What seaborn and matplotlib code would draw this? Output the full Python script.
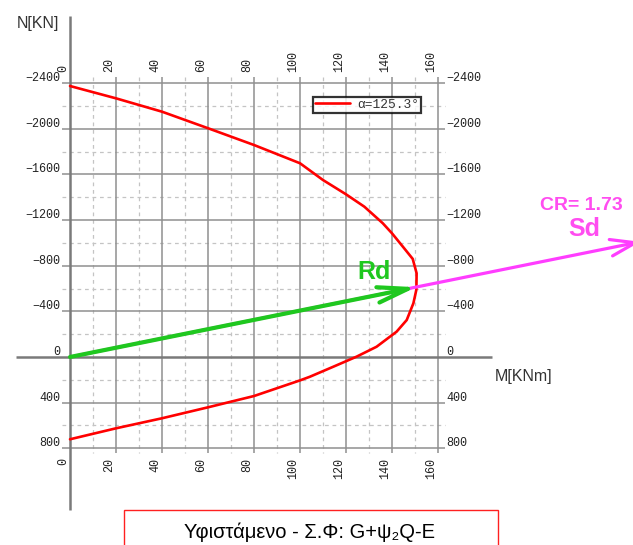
import matplotlib
matplotlib.use("Agg")
import matplotlib.pyplot as plt
from matplotlib.patches import Rectangle
import pandas as pd
import seaborn as sns

# Interaction diagram M-N (M in kNm, N in kN, compression negative)
moment = [0, 20, 40, 60, 80, 100, 110, 120, 128, 136, 140, 145, 149, 150.7,
          150.6, 149.3, 146.4, 142, 133.3, 124.6, 114.5, 104.3, 100, 80, 60,
          40, 20, 0]
axial = [-2375, -2267, -2150, -2005, -1858, -1698, -1551, -1426, -1317, -1172,
         -1084, -960, -860, -734, -590, -471, -324, -222, -90, -3, 85, 173,
         205, 342, 441, 537, 625, 721]
curve_label = "α=125.3°"

# Resistance and action vectors
rd_point = (150.5, -612)
sd_point = (248.0, -1010)
cr_text = "CR= 1.73"

m_ticks = list(range(0, 161, 20))
n_ticks = list(range(-2400, 801, 400))
m_minor = list(range(10, 151, 20))
n_minor = list(range(-2200, 601, 400))

title = "Υφιστάμενο - Σ.Φ: G+ψ₂Q-E"

sns.set_style("white")
plt.rcParams["font.family"] = ["Liberation Sans", "DejaVu Sans"]

W, H = 633, 545
fig = plt.figure(figsize=(W / 100, H / 100), dpi=100)
fig.patch.set_facecolor("white")
ax = fig.add_axes([0, 0, 1, 1])

# pixel scale: 2.3 px per kNm, 0.1141 px per kN
sx, sy = 2.3, 0.1141
x0, y0 = 70, 357


def px_m(x):
    return (x - x0) / sx


def px_n(y):
    return (y - y0) / sy


grid_c = "#8f8f8f"
minor_c = "#c4c4c4"
tick_font = dict(family=["Liberation Mono", "DejaVu Sans Mono"], size=8.5, color="#222222")

m_lo, m_hi = -3.5, 163.2
n_lo, n_hi = -2450, 840

# minor dashed grid
ax.vlines(m_minor, n_lo, n_hi, colors=minor_c, lw=0.9, linestyles=(0, (3, 3)), zorder=1)
ax.hlines(n_minor, m_lo, m_hi, colors=minor_c, lw=0.9, linestyles=(0, (3, 3)), zorder=1)
# major grid
ax.vlines(m_ticks[1:], n_lo, n_hi, colors=grid_c, lw=1.1, zorder=1.5)
ax.hlines([n for n in n_ticks if n != 0], m_lo, m_hi, colors=grid_c, lw=1.1, zorder=1.5)
# main axes
ax.vlines(0, -2989, 1340, colors="#7a7a7a", lw=1.8, zorder=2)
ax.hlines(0, -23.5, 183.5, colors="#7a7a7a", lw=1.8, zorder=2)

# tick labels
for n in n_ticks:
    lab = f"{n}".replace("-", "\u2212")
    ax.text(-4.2, n + 8, lab, ha="right", va="bottom", **tick_font)
    ax.text(163.8, n + 8, lab, ha="left", va="bottom", **tick_font)
for m in m_ticks:
    ax.text(m - 0.3, -2500, str(m), rotation=90, ha="right", va="bottom", **tick_font)
    ax.text(m - 0.3, 885, str(m), rotation=90, ha="right", va="top", **tick_font)

ax.text(-23, -2880, "N[KN]", ha="left", va="baseline", fontsize=11.5, color="#333333")
ax.text(184.8, 210, "M[KNm]", ha="left", va="baseline", fontsize=11.5, color="#333333")

# interaction curve
df = pd.DataFrame({"M": moment, "N": axial})
sns.lineplot(data=df, x="M", y="N", sort=False, estimator=None, color="#ff0000",
             lw=1.9, label=curve_label, ax=ax, zorder=4)

# Sd vector (magenta) and Rd vector (green)
ax.annotate("", xy=sd_point, xytext=(0, 0), zorder=5, annotation_clip=False,
            arrowprops=dict(arrowstyle="->,head_length=0.9,head_width=0.3",
                            color="#ff3dff", lw=2.3, shrinkA=0, shrinkB=0,
                            mutation_scale=20))
ax.annotate("", xy=rd_point, xytext=(0, 0), zorder=6,
            arrowprops=dict(arrowstyle="->,head_length=1.1,head_width=0.28",
                            color="#1fc81f", lw=3.0, shrinkA=0, shrinkB=0,
                            mutation_scale=20))

ax.text(px_m(374), px_n(279), "Rd", ha="center", va="baseline", fontsize=18,
        fontweight="bold", color="#1fc81f")
ax.text(px_m(581), px_n(210), cr_text, ha="center", va="baseline", fontsize=14,
        fontweight="bold", color="#ff4df0")
ax.text(px_m(584), px_n(236), "Sd", ha="center", va="baseline", fontsize=18,
        fontweight="bold", color="#ff4df0")

ax.set_xlim(-x0 / sx, (W - x0) / sx)
ax.set_ylim((H - y0) / sy, -y0 / sy)
ax.set_axis_off()

leg = ax.legend(loc="upper left", bbox_to_anchor=(313 / W, 1 - 97 / H),
                bbox_transform=fig.transFigure, borderaxespad=0, frameon=True,
                fancybox=False, edgecolor="black", handlelength=2.7,
                handletextpad=0.55, borderpad=0.15,
                prop=dict(family=["Liberation Mono", "DejaVu Sans Mono"], size=9.3))
leg.get_frame().set_linewidth(1.6)
leg.get_frame().set_facecolor("white")
for t in leg.get_texts():
    t.set_color("#333333")

# caption box
fig.patches.append(Rectangle((124 / W, -0.02), (498 - 124) / W, (H - 510) / H + 0.02,
                             transform=fig.transFigure, fill=False,
                             edgecolor="#ff2020", lw=1.0))
fig.text(310 / W, 1 - 538 / H, title, ha="center", va="baseline", fontsize=14.5,
         color="black")

fig.savefig("out.png", dpi=100, facecolor="white")
